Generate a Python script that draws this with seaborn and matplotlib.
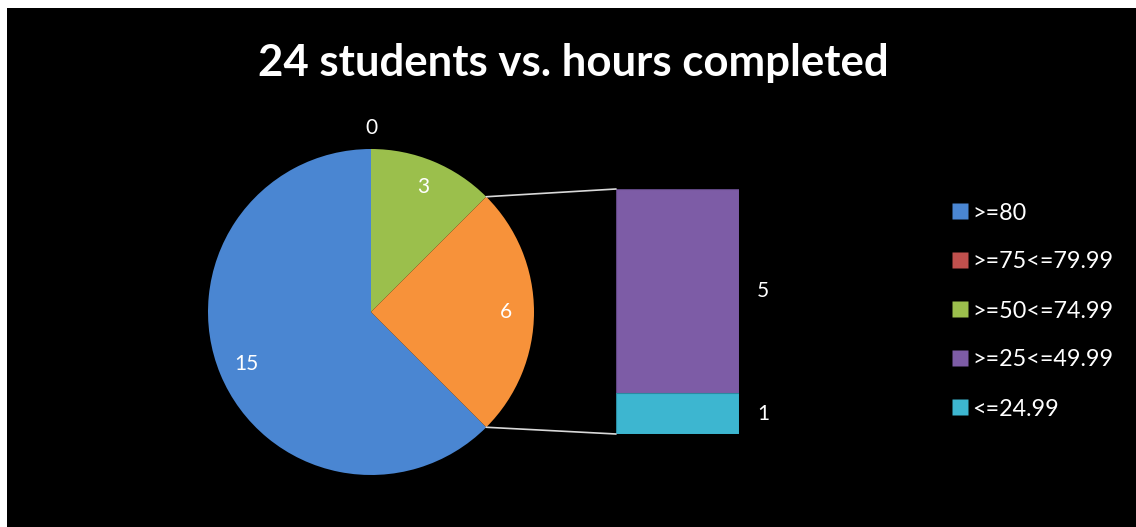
import numpy as np
import matplotlib
matplotlib.use("Agg")
import matplotlib.pyplot as plt
from matplotlib.patches import Rectangle, ConnectionPatch
from matplotlib.lines import Line2D
import seaborn as sns

# data
categories = [">=80", ">=75<=79.99", ">=50<=74.99", ">=25<=49.99", "<=24.99"]
counts = [15, 0, 3, 5, 1]
colors = ["#4a86d2", "#c0504d", "#9bbf4c", "#7d5ca6", "#3db6d0"]
other_color = "#f7923a"
title = "24 students vs. hours completed"

sns.set_theme(style="white")
plt.rcParams["font.family"] = ["Lato", "DejaVu Sans"]

W, H = 1136, 527
fig = plt.figure(figsize=(W / 100, H / 100), dpi=100, facecolor="white")
# black chart area with a thin white margin top/left
fig.patches.append(Rectangle((7 / W, 0), 1, 1 - 8 / H, transform=fig.transFigure,
                             facecolor="black", edgecolor="none", zorder=-10))

# main pie: first three categories + "other" (the last two)
pie_vals = counts[:3] + [sum(counts[3:])]
pie_cols = colors[:3] + [other_color]
cx, cy, r = 371, 312, 163
pax = fig.add_axes([(cx - r) / W, (H - cy - r) / H, 2 * r / W, 2 * r / H])
other_angle = 360 * pie_vals[-1] / sum(pie_vals)
# clockwise, "other" slice centred at 3 o'clock
wedges, _ = pax.pie(pie_vals, colors=pie_cols, startangle=-other_angle / 2,
                    counterclock=False, wedgeprops=dict(linewidth=0, edgecolor="none"))
pax.set_xlim(-1, 1)
pax.set_ylim(-1, 1)
pax.set_aspect("auto")
pax.axis("off")

for w, v in zip(wedges, pie_vals):
    mid = np.deg2rad((w.theta1 + w.theta2) / 2)
    d = 1.13 if v == 0 else 0.83
    pax.text(d * np.cos(mid), d * np.sin(mid), str(v), color="white", fontsize=15,
             ha="center", va="center")

# secondary stacked bar
bl, br, bt, bb = 616, 739, 189, 434
bax = fig.add_axes([bl / W, (H - bb) / H, (br - bl) / W, (bb - bt) / H])
sub = counts[3:]
sub_cols = colors[3:]
total = sum(sub)
sns.barplot(x=["other"], y=[total], color=sub_cols[0], saturation=1, width=0.8,
            ax=bax, edgecolor="#5e4580", linewidth=0.8)
sns.barplot(x=["other"], y=[sub[1]], color=sub_cols[1], saturation=1, width=0.8,
            ax=bax, edgecolor="#2a8aa0", linewidth=0.8)
bax.set_xlim(-0.4, 0.4)
bax.set_ylim(0, total)
bax.axis("off")
bax.text(0.555, sub[1] + sub[0] / 2, str(sub[0]), color="white", fontsize=15,
         ha="center", va="center", clip_on=False)
bax.text(0.555, sub[1] / 2, str(sub[1]), color="white", fontsize=15,
         ha="center", va="center", clip_on=False)

# connector lines from the "other" slice to the bar
for ang, yb in [(other_angle / 2, total), (-other_angle / 2, 0)]:
    a = np.deg2rad(ang)
    con = ConnectionPatch(xyA=(np.cos(a), np.sin(a)), coordsA=pax.transData,
                          xyB=(-0.4, yb), coordsB=bax.transData,
                          color="#d9d9d9", lw=1.2)
    fig.add_artist(con)

# title
fig.text(573 / W, 1 - 63 / H, title, color="white", fontsize=31.5, fontweight="bold",
         ha="center", va="center")

# legend
handles = [Line2D([], [], marker="s", linestyle="none", markersize=11.5,
                  markerfacecolor=c, markeredgecolor="none") for c in colors]
fig.legend(handles, categories, loc="center left", bbox_to_anchor=(948 / W, 1 - 311 / H),
           frameon=False, labelcolor="white", fontsize=16.8, handletextpad=0.05,
           labelspacing=1.2, handlelength=1.0, borderaxespad=0, borderpad=0)

fig.savefig("out.png", dpi=100, facecolor=fig.get_facecolor())
